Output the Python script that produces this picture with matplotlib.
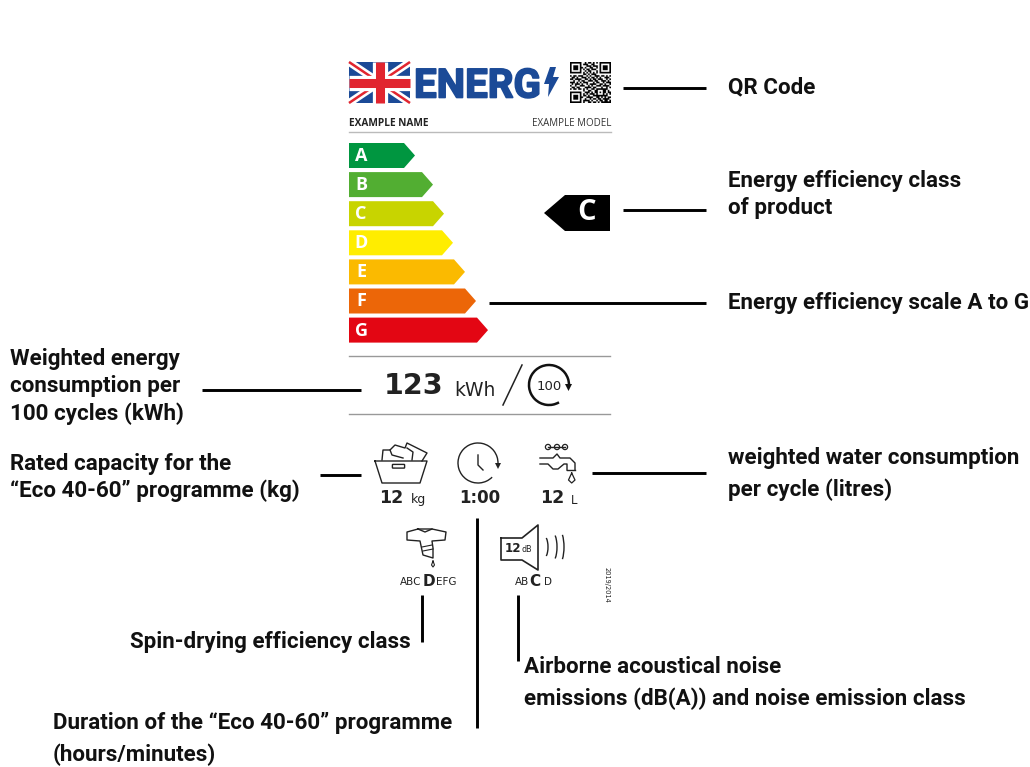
import numpy as np
import matplotlib
matplotlib.use('Agg')
import matplotlib.pyplot as plt
import matplotlib.patheffects as pe
from matplotlib.patches import Polygon, Arc, Circle, FancyBboxPatch

# energy class scale
classes = ['A', 'B', 'C', 'D', 'E', 'F', 'G']
bar_ends = [415, 433, 444, 453, 465, 476, 488]
bar_colors = ['#009640', '#52AE32', '#C8D400', '#FFED00', '#FBBA00', '#EC6608', '#E30613']
product_class = 'C'

# label values
name_text = 'EXAMPLE NAME'
model_text = 'EXAMPLE MODEL'
energy_value = '123'
capacity_value = '12'
duration_value = '1:00'
water_value = '12'
noise_value = '12'

# rough QR pattern
qr_rows = [
    '1111111001011010101111111',
    '1000001011100110001000001',
    '1011101000111011101011101',
    '1011101101001100101011101',
    '1011101010110111001011101',
    '1000001001011000101000001',
    '1111111010101010101111111',
    '0000000011010111000000000',
    '1011011100101001110110101',
    '0110100111010110101001110',
    '1101111001101011011100101',
    '0010010110011101100111010',
    '1110101011100010110010111',
    '0101110100101111001101001',
    '1001001110010100111011110',
    '0110110001111011000100101',
    '1011011010100110111111100',
    '0000000010011001100011010',
    '1111111001110101101011011',
    '1000001010101110100010101',
    '1011101011010011111111100',
    '1011101100111100110101011',
    '1011101001001011011011110',
    '1000001011110100101101101',
    '1111111010011011010111111',
]

fig = plt.figure(figsize=(10.3, 7.67), dpi=100)
ax = fig.add_axes([0, 0, 1, 1])
ax.set_xlim(0, 1030)
ax.set_ylim(767, 0)
ax.axis('off')

# flag
blue = '#1B4A97'
red = '#E1252F'
ax.add_patch(Polygon([(349, 62), (410, 62), (410, 103), (349, 103)], fc=blue, ec='none'))
ax.plot([349, 410], [62, 103], color='white', lw=5.5, solid_capstyle='butt')
ax.plot([349, 410], [103, 62], color='white', lw=5.5, solid_capstyle='butt')
ax.plot([349, 410], [62, 103], color=red, lw=1.8, solid_capstyle='butt')
ax.plot([349, 410], [103, 62], color=red, lw=1.8, solid_capstyle='butt')
ax.plot([349, 410], [82.5, 82.5], color='white', lw=11, solid_capstyle='butt')
ax.plot([379.5, 379.5], [62, 103], color='white', lw=11, solid_capstyle='butt')
ax.plot([349, 410], [82.5, 82.5], color=red, lw=6.5, solid_capstyle='butt')
ax.plot([379.5, 379.5], [62, 103], color=red, lw=6.5, solid_capstyle='butt')

energ = ax.text(414, 97.5, 'ENERG', color=blue, fontsize=29, family='Roboto',
                weight='bold', ha='left', va='baseline')
energ.set_path_effects([pe.withStroke(linewidth=1.2, foreground=blue)])
ax.add_patch(Polygon([(550, 67), (556, 67), (553, 77), (559, 77), (548, 97), (549, 84), (544, 84)],
                     fc=blue, ec='none'))

# qr
qr = np.array([[int(c) for c in r] for r in qr_rows])
ax.imshow(qr, cmap='gray_r', extent=(570, 611, 103, 62), interpolation='antialiased', aspect='auto')
ax.set_xlim(0, 1030)
ax.set_ylim(767, 0)

ax.text(349, 124, name_text, fontsize=7.3, family='Open Sans', weight='bold', color='#222222',
        ha='left', va='center')
ax.text(611, 124, model_text, fontsize=7, family='Open Sans', color='#333333', ha='right', va='center')
ax.plot([349, 611], [131.5, 131.5], color='#bbbbbb', lw=1)

# scale arrows
for i, c in enumerate(classes):
    top = 143 + i * 29.1
    end = bar_ends[i]
    ax.add_patch(Polygon([(349, top), (end - 11, top), (end, top + 12.5), (end - 11, top + 25), (349, top + 25)],
                         fc=bar_colors[i], ec='none'))
    ax.text(361, top + 13, c, color='white', fontsize=13, family='Open Sans', weight='bold',
            ha='center', va='center')

# class marker
ax.add_patch(Polygon([(544, 213), (565, 195), (610, 195), (610, 231), (565, 231)], fc='black', ec='none'))
ax.text(587, 213, product_class, color='white', fontsize=21, family='Open Sans', weight='bold',
        ha='center', va='center')

# energy row
ax.plot([349, 610], [356, 356], color='#999999', lw=1)
ax.plot([349, 610], [414, 414], color='#999999', lw=1)
ax.text(384, 386, energy_value, fontsize=20.5, family='DejaVu Sans', weight='bold', color='#222222',
        ha='left', va='center')
ax.text(454, 390, 'kWh', fontsize=13.5, family='DejaVu Sans', color='#222222', ha='left', va='center')
ax.plot([503, 522], [405, 365], color='#222222', lw=1.1)
ax.add_patch(Arc((549, 385), 40, 40, theta1=60, theta2=360, color='#111111', lw=1.8))
ax.add_patch(Polygon([(565, 384), (572, 384), (568.5, 391)], fc='#111111', ec='none'))
ax.text(549, 386, '100', fontsize=9.5, family='DejaVu Sans', color='#222222', ha='center', va='center')

ink = '#222222'
# basket
ax.plot([375, 427, 420, 382, 375], [461, 461, 483, 483, 461], color=ink, lw=1)
ax.add_patch(FancyBboxPatch((393, 465), 11, 2.5, boxstyle='round,pad=0.6', fc='white', ec=ink, lw=1))
ax.plot([382, 383, 390, 395, 405, 407, 427, 422],
        [460, 450, 450, 445, 448, 443, 453, 461], color=ink, lw=1)
ax.plot([390, 392, 403], [450, 455, 458], color=ink, lw=1)
ax.plot([407, 413, 412], [448, 452, 460], color=ink, lw=1)
ax.text(379, 498, capacity_value, fontsize=12.5, family='DejaVu Sans', weight='bold', color=ink, ha='left', va='center')
ax.text(410.5, 500, 'kg', fontsize=9, family='DejaVu Sans', color=ink, ha='left', va='center')

# clock
ax.add_patch(Arc((478, 463), 40, 40, theta1=45, theta2=362, color=ink, lw=1))
ax.add_patch(Polygon([(495, 463), (501, 463), (498, 469)], fc=ink, ec='none'))
ax.plot([478, 478, 483], [455, 465, 470], color=ink, lw=1)
ax.text(480, 498, duration_value, fontsize=12, family='DejaVu Sans', weight='bold', color=ink, ha='center', va='center')

# tap
for hx in [548, 557, 565]:
    ax.add_patch(Circle((hx, 447), 2.6, fc='white', ec=ink, lw=0.9))
ax.plot([548, 565], [447, 447], color=ink, lw=1)
ax.plot([540, 553, 557, 560, 570, 575, 575], [458, 458, 454, 458, 458, 463, 470], color=ink, lw=1)
ax.plot([540, 548, 553, 558, 564, 567, 567], [464, 464, 469, 469, 464, 464, 470], color=ink, lw=1)
ax.plot([567, 575], [470, 470], color=ink, lw=1)
ax.plot([571.7, 568.5, 571.7, 575, 571.7], [473, 480, 483, 480, 473], color=ink, lw=0.9)
ax.text(540, 498, water_value, fontsize=12.5, family='DejaVu Sans', weight='bold', color=ink, ha='left', va='center')
ax.text(571, 500, 'L', fontsize=8.5, family='DejaVu Sans', color=ink, ha='left', va='center')

# shirt
ax.plot([418, 407, 407, 420, 423, 433, 433, 432, 445, 446, 432, 418],
        [529, 532, 540, 541, 555, 558, 548, 541, 540, 532, 529, 529], color=ink, lw=1)
ax.plot([418, 425, 432], [529, 532, 529], color=ink, lw=1)
ax.plot([422, 432], [547, 545], color=ink, lw=0.8)
ax.plot([423, 433], [551, 549], color=ink, lw=0.8)
ax.plot([433, 431.5, 433, 434.5, 433], [561, 565, 567, 565, 561], color=ink, lw=0.8)
ax.text(400, 582, 'ABC', fontsize=7.5, family='DejaVu Sans', color=ink, ha='left', va='center')
ax.text(422.5, 581, 'D', fontsize=11, family='DejaVu Sans', weight='bold', color=ink, ha='left', va='center')
ax.text(436, 582, 'EFG', fontsize=7.5, family='DejaVu Sans', color=ink, ha='left', va='center')

# speaker
ax.plot([501, 522, 538, 538, 522, 501, 501], [538, 538, 525, 570, 560, 560, 538], color=ink, lw=1.2)
ax.text(505, 548.5, noise_value, fontsize=8.6, family='DejaVu Sans', weight='bold', color=ink, ha='left', va='center')
ax.text(522, 549, 'dB', fontsize=5.8, family='DejaVu Sans', color=ink, ha='left', va='center')
ax.add_patch(Arc((543, 547), 10, 24, theta1=-70, theta2=70, color=ink, lw=1))
ax.add_patch(Arc((551, 547), 12, 32, theta1=-70, theta2=70, color=ink, lw=1))
ax.add_patch(Arc((558, 547), 12, 36, theta1=-70, theta2=70, color=ink, lw=1))
ax.text(515, 582, 'AB', fontsize=7.5, family='DejaVu Sans', color=ink, ha='left', va='center')
ax.text(529.5, 581, 'C', fontsize=11, family='DejaVu Sans', weight='bold', color=ink, ha='left', va='center')
ax.text(544, 582, 'D', fontsize=7.5, family='DejaVu Sans', color=ink, ha='left', va='center')
ax.text(607, 585, '2019/2014', fontsize=4.8, family='DejaVu Sans', color=ink, rotation=-90, ha='center', va='center')

# callout lines
lines_x = [(623, 706), (623, 706), (489, 706), (202, 361), (320, 361), (592, 706), (477, 477), (421.5, 421.5), (518, 518)]
lines_y = [(88, 88), (210, 210), (303, 303), (390, 390), (475, 475), (473, 473), (518, 728), (595, 642), (595, 661)]
for lx, ly in zip(lines_x, lines_y):
    ax.plot(lx, ly, color='black', lw=2.1, solid_capstyle='butt')

# callout text
labels = [
    (728, 87, 'QR Code'),
    (728, 181, 'Energy efficiency class'),
    (728, 208, 'of product'),
    (728, 303, 'Energy efficiency scale A to G'),
    (10, 359, 'Weighted energy'),
    (10, 386, 'consumption per'),
    (10, 414, '100 cycles (kWh)'),
    (10, 464, 'Rated capacity for the'),
    (10, 491, '\u201cEco 40-60\u201d programme (kg)'),
    (728, 458, 'weighted water consumption'),
    (728, 490, 'per cycle (litres)'),
    (130, 642, 'Spin-drying efficiency class'),
    (524, 667, 'Airborne acoustical noise'),
    (524, 699, 'emissions (dB(A)) and noise emission class'),
    (53, 723, 'Duration of the \u201cEco 40-60\u201d programme'),
    (53, 755, '(hours/minutes)'),
]
for x, y, s in labels:
    ax.text(x, y, s, fontsize=16.15, family='Roboto', weight='bold', color='#111111', ha='left', va='center')

fig.savefig('out.png', dpi=100)
